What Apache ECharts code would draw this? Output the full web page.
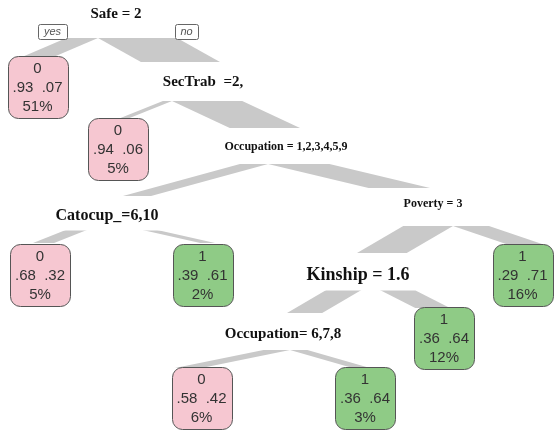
<!DOCTYPE html>
<html>
<head>
<meta charset="utf-8">
<script src="https://cdn.jsdelivr.net/npm/echarts@6/dist/echarts.min.js"></script>
<style>
  html, body { margin: 0; padding: 0; background: #ffffff; }
  #chart { width: 556px; height: 433px; }
</style>
</head>
<body>
<div id="chart"></div>
<script>
// ---- Tree content -------------------------------------------------------
// Split rules, in node order
const splitLabels = ['Safe = 2', 'SecTrab  =2,', 'Occupation = 1,2,3,4,5,9',
  'Catocup_=6,10', 'Poverty = 3', 'Kinship = 1.6', 'Occupation= 6,7,8'];
// Children of every split: [left (yes), right (no)]; s = split, l = leaf
const splitChildren = [['l0', 's1'], ['l1', 's2'], ['s3', 's4'], ['l2', 'l3'],
  ['s5', 'l4'], ['s6', 'l5'], ['l6', 'l7']];
// Leaf outcomes
const leafClass = ['0', '0', '0', '1', '1', '1', '0', '1'];
const leafProb0 = [0.93, 0.94, 0.68, 0.39, 0.29, 0.36, 0.58, 0.36];
const leafProb1 = [0.07, 0.06, 0.32, 0.61, 0.71, 0.64, 0.42, 0.64];
const leafPercent = [51, 5, 5, 2, 16, 12, 6, 3];
const branchTags = ['yes', 'no'];

// ---- Layout (axis units, y grows downward) ------------------------------
const splitLabelXY = [[116, 14], [203, 82], [286, 147], [107, 216], [433, 204], [358, 275], [283, 334]];
const splitFontSize = [15, 15, 12, 16, 12, 18, 15];
const splitApexXY = [[98, 38], [172, 101], [268, 164], [107, 222], [453, 226], [370, 285], [290, 350]];
const entryXY = {
  s1: [220, 62], s2: [300, 128], s3: [123, 196], s4: [430, 188], s5: [357, 253], s6: [287, 313],
  l0: [22, 57], l1: [118, 119], l2: [33, 243], l3: [215, 243], l4: [545, 245],
  l5: [450, 308], l6: [175, 368], l7: [370, 368]
};
const leafXY = [[37.5, 87], [118, 148.5], [40, 274.5], [202.5, 274.5], [522.5, 275], [444, 337.5], [201.5, 398], [365, 398]];
const leafBoxW = 60, leafBoxH = 62;
const tagXY = [[52.5, 31.5], [186.5, 31.5]];
const tagW = [29, 23];
const branchScale = 16.7;   // branch width per sqrt(deviance, in % of cases)

// ---- Derived quantities -------------------------------------------------
// Class totals (in % of all cases) under a node, summed over its leaves
function classTotals(id) {
  const idx = +id.slice(1);
  if (id[0] === 'l') return [leafPercent[idx] * leafProb0[idx], leafPercent[idx] * leafProb1[idx]];
  const a = classTotals(splitChildren[idx][0]);
  const b = classTotals(splitChildren[idx][1]);
  return [a[0] + b[0], a[1] + b[1]];
}
// Branch width follows the square root of the node's misclassification deviance
function branchWidth(id) {
  const t = classTotals(id);
  return branchScale * Math.sqrt(Math.min(t[0], t[1]));
}

const edges = [];
splitChildren.forEach((pair, p) => {
  pair.forEach((child, side) => edges.push({ parent: p, child: child, side: side }));
});

const serif = '"Liberation Serif", "Times New Roman", serif';
const sans = '"Liberation Sans", Arial, sans-serif';
const fillFor = c => (c === '0' ? '#f6c7d1' : '#8fcb86');
const fmt = v => v.toFixed(2).replace(/^0/, '');

const chart = echarts.init(document.getElementById('chart'), null, { renderer: 'canvas' });

chart.setOption({
  animation: false,
  grid: { left: 0, right: 0, top: 0, bottom: 0 },
  xAxis: { type: 'value', min: 0, max: 556, show: false },
  yAxis: { type: 'value', min: 0, max: 433, inverse: true, show: false },
  series: [
    {
      // gray branches, width proportional to sqrt(deviance)
      type: 'custom',
      z: 1,
      data: edges.map((e, i) => [splitApexXY[e.parent][0], splitApexXY[e.parent][1], i]),
      renderItem: function (params, api) {
        const e = edges[params.dataIndex];
        const ap = splitApexXY[e.parent];
        const en = entryXY[e.child];
        const w = branchWidth(e.child);
        let pts;
        if (e.side === 0) {
          pts = [[ap[0] - w, ap[1]], [ap[0], ap[1]], [en[0] + w, en[1]], [en[0], en[1]]];
        } else {
          pts = [[ap[0], ap[1]], [ap[0] + w, ap[1]], [en[0], en[1]], [en[0] - w, en[1]]];
        }
        return {
          type: 'polygon',
          shape: { points: pts.map(p => api.coord(p)) },
          style: { fill: '#c9c9c9', stroke: null }
        };
      }
    },
    {
      // split rule labels on white plates
      type: 'custom',
      z: 2,
      data: splitLabels.map((s, i) => [splitLabelXY[i][0], splitLabelXY[i][1], i]),
      renderItem: function (params, api) {
        const i = params.dataIndex;
        const c = api.coord(splitLabelXY[i]);
        return {
          type: 'text',
          x: c[0], y: c[1],
          style: {
            text: splitLabels[i],
            font: 'bold ' + splitFontSize[i] + 'px ' + serif,
            fill: '#111111',
            align: 'center',
            verticalAlign: 'middle',
            backgroundColor: '#ffffff',
            padding: [3, 6, 10, 6]
          }
        };
      }
    },
    {
      // leaf boxes: predicted class, class probabilities, share of cases
      type: 'custom',
      z: 3,
      data: leafClass.map((c, i) => [leafXY[i][0], leafXY[i][1], i]),
      renderItem: function (params, api) {
        const i = params.dataIndex;
        const c = api.coord(leafXY[i]);
        const x0 = Math.round(c[0] - leafBoxW / 2) + 0.5;
        const y0 = Math.round(c[1] - leafBoxH / 2) + 0.5;
        const lines = [leafClass[i], fmt(leafProb0[i]) + '  ' + fmt(leafProb1[i]), leafPercent[i] + '%'];
        const children = [{
          type: 'rect',
          shape: { x: x0, y: y0, width: leafBoxW, height: leafBoxH, r: 10 },
          style: { fill: fillFor(leafClass[i]), stroke: '#555555', lineWidth: 1 }
        }];
        lines.forEach((t, k) => {
          children.push({
            type: 'text',
            x: c[0], y: c[1] + (k - 1) * 19 + 1,
            style: {
              text: t, font: '15px ' + sans, fill: '#333333',
              align: 'center', verticalAlign: 'middle'
            }
          });
        });
        return { type: 'group', children: children };
      }
    },
    {
      // yes / no tags beside the root split
      type: 'custom',
      z: 4,
      data: branchTags.map((t, i) => [tagXY[i][0], tagXY[i][1], i]),
      renderItem: function (params, api) {
        const i = params.dataIndex;
        const c = api.coord(tagXY[i]);
        return {
          type: 'group',
          children: [
            {
              type: 'rect',
              shape: { x: Math.round(c[0] - tagW[i] / 2) + 0.5, y: Math.round(c[1] - 7.5) + 0.5, width: tagW[i], height: 15, r: 2 },
              style: { fill: '#ffffff', stroke: '#666666', lineWidth: 1 }
            },
            {
              type: 'text',
              x: c[0], y: c[1] + 0.5,
              style: {
                text: branchTags[i], font: 'italic 11px ' + sans, fill: '#555555',
                align: 'center', verticalAlign: 'middle'
              }
            }
          ]
        };
      }
    }
  ]
});
</script>
</body>
</html>
